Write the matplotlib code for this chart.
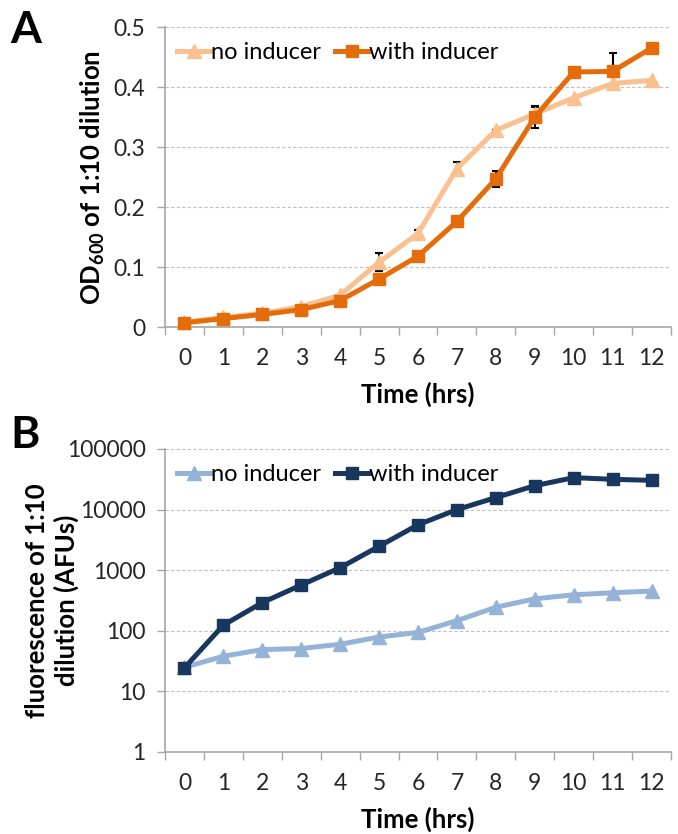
import matplotlib
matplotlib.use("Agg")
import matplotlib.pyplot as plt
import numpy as np

plt.rcParams['font.family'] = ['Lato', 'DejaVu Sans']
plt.rcParams['mathtext.fontset'] = 'custom'
plt.rcParams['mathtext.rm'] = 'Lato'
plt.rcParams['mathtext.bf'] = 'Lato:bold'

hours = [0, 1, 2, 3, 4, 5, 6, 7, 8, 9, 10, 11, 12]
tick_labels = [str(h) for h in hours]

od_no_inducer = [0.008, 0.016, 0.023, 0.034, 0.053, 0.108, 0.156, 0.264, 0.328, 0.355, 0.382, 0.406, 0.411]
od_no_inducer_err = [0.0, 0.0, 0.0, 0.0, 0.0, 0.015, 0.006, 0.011, 0.0, 0.012, 0.0, 0.01, 0.0]
od_with_inducer = [0.007, 0.014, 0.021, 0.029, 0.044, 0.080, 0.118, 0.176, 0.247, 0.350, 0.425, 0.426, 0.465]
od_with_inducer_err = [0.0, 0.0, 0.0, 0.0, 0.0, 0.0, 0.0, 0.0, 0.013, 0.018, 0.0, 0.03, 0.0]

fl_no_inducer = [25, 38, 49, 51, 60, 79, 94, 147, 245, 337, 393, 424, 452]
fl_with_inducer = [24.5, 124, 292, 570, 1100, 2480, 5620, 10000, 15800, 24800, 33700, 31600, 30400]

grid_c = '#bfbfbf'
spine_c = '#a6a6a6'
text_c = '#262626'

fig = plt.figure(figsize=(6.78, 8.34), dpi=100)
W, H = 678, 834
axA = fig.add_axes([165 / W, 1 - 327 / H, (671 - 165) / W, 300 / H])
axB = fig.add_axes([165 / W, 1 - 752 / H, (671 - 165) / W, 303 / H])

x = np.array(hours)


def style(ax):
    for s in ['top', 'right']:
        ax.spines[s].set_visible(False)
    for s in ['left', 'bottom']:
        ax.spines[s].set_color(spine_c)
        ax.spines[s].set_linewidth(1.2)
    ax.set_xlim(-0.5, 12.5)
    ax.set_xticks(np.arange(-0.5, 13, 1.0))
    ax.set_xticklabels([])
    ax.set_xticks(x, minor=True)
    ax.set_xticklabels(tick_labels, minor=True)
    ax.tick_params(axis='x', which='major', length=6, color=spine_c, width=1, direction='out')
    ax.tick_params(axis='x', which='minor', length=0, labelsize=16.5, pad=15, colors=text_c)
    ax.tick_params(axis='y', which='major', length=6, color=spine_c, width=1, direction='out',
                   labelsize=16.5, pad=8, labelcolor=text_c)
    ax.tick_params(axis='y', which='minor', length=0)
    ax.yaxis.grid(True, which='major', color=grid_c, linestyle=(0, (3, 2)), linewidth=0.8)
    ax.set_axisbelow(True)
    ax.set_xlabel('Time (hrs)', fontsize=18.5, fontweight='bold', labelpad=9, color='black')


leg_kw = dict(loc='upper left', ncol=2, frameon=False, fontsize=17, handlelength=1.45,
              handletextpad=0.0, columnspacing=0.6, bbox_to_anchor=(0.0, 0.99), borderaxespad=0.1)

# Panel A
style(axA)
axA.set_ylim(0, 0.5)
axA.set_yticks([0, 0.1, 0.2, 0.3, 0.4, 0.5])
axA.set_yticklabels(['0', '0.1', '0.2', '0.3', '0.4', '0.5'])
axA.errorbar(x, od_no_inducer, yerr=od_no_inducer_err, fmt='none', ecolor='black',
             elinewidth=1.5, capsize=3, capthick=1.5, zorder=2)
axA.errorbar(x, od_with_inducer, yerr=od_with_inducer_err, fmt='none', ecolor='black',
             elinewidth=1.5, capsize=3, capthick=1.5, zorder=2)
axA.plot(x, od_no_inducer, color='#FAC090', lw=3.6, marker='^', ms=10.5, label='no inducer', zorder=3,
         clip_on=False)
axA.plot(x, od_with_inducer, color='#E46C0A', lw=3.6, marker='s', ms=8.5, label='with inducer', zorder=4,
         clip_on=False)
axA.set_ylabel(r'$\mathbf{OD_{600}}$ of 1:10 dilution', fontsize=18.5, fontweight='bold')
axA.yaxis.set_label_coords((107 - 165) / 506, 0.5)
axA.legend(**leg_kw)

# Panel B
style(axB)
axB.set_yscale('log')
axB.set_ylim(1, 100000)
axB.set_yticks([1, 10, 100, 1000, 10000, 100000])
axB.set_yticklabels(['1', '10', '100', '1000', '10000', '100000'])
axB.yaxis.set_minor_locator(matplotlib.ticker.NullLocator())
axB.plot(x, fl_no_inducer, color='#95B3D7', lw=3.6, marker='^', ms=10.5, label='no inducer', zorder=3)
axB.plot(x, fl_with_inducer, color='#17375E', lw=3.6, marker='s', ms=8.5, label='with inducer', zorder=4)
axB.set_ylabel('fluorescence of 1:10\ndilution (AFUs)', fontsize=18.5, fontweight='bold',
               linespacing=1.2)
axB.yaxis.set_label_coords((79 - 165) / 506, 0.5)
axB.legend(**leg_kw)

fig.text(10 / W, 1 - 43 / H, 'A', fontsize=32, fontweight='bold')
fig.text(10 / W, 1 - 448 / H, 'B', fontsize=32, fontweight='bold')

fig.savefig('out.png', dpi=100)
